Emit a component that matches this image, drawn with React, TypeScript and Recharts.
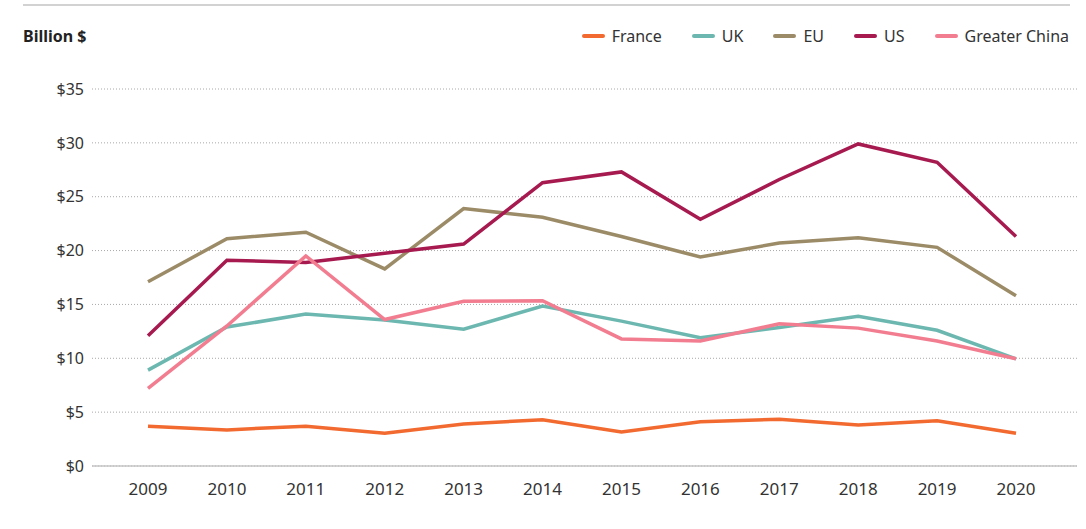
import React from 'react';
import { LineChart, Line, XAxis, YAxis, CartesianGrid } from 'recharts';

const years = ['2009', '2010', '2011', '2012', '2013', '2014', '2015', '2016', '2017', '2018', '2019', '2020'];
const france = [3.7, 3.35, 3.7, 3.05, 3.9, 4.3, 3.15, 4.1, 4.35, 3.8, 4.2, 3.05];
const uk = [8.9, 12.9, 14.1, 13.55, 12.7, 14.85, 13.45, 11.9, 12.85, 13.9, 12.6, 9.95];
const eu = [17.1, 21.1, 21.7, 18.3, 23.9, 23.1, 21.3, 19.4, 20.7, 21.2, 20.3, 15.8];
const us = [12.1, 19.1, 18.9, 19.75, 20.6, 26.3, 27.3, 22.9, 26.6, 29.9, 28.2, 21.3];
const china = [7.2, 13.0, 19.5, 13.6, 15.3, 15.35, 11.8, 11.6, 13.2, 12.8, 11.6, 9.95];
const yTicks = [0, 5, 10, 15, 20, 25, 30, 35];

const series = [
  { key: 'France', values: france, color: '#f26a30' },
  { key: 'UK', values: uk, color: '#6cb8b0' },
  { key: 'EU', values: eu, color: '#9c8b67' },
  { key: 'US', values: us, color: '#a61a50' },
  { key: 'Greater China', values: china, color: '#f27d90' },
];

const data = years.map((y, i) => {
  const row: Record<string, string | number> = { year: y };
  series.forEach((s) => {
    row[s.key] = s.values[i];
  });
  return row;
});

const FONT = '"Noto Sans", sans-serif';
const TEXT = '#333333';

export default function App() {
  return (
    <div style={{ position: 'absolute', left: 0, top: 0, width: 1086, height: 529, fontFamily: FONT, background: '#fff' }}>
      <div style={{ position: 'absolute', left: 23, top: 4, width: 1047, height: 0, borderTop: '2px solid #d2d2d2' }} />
      <div style={{ position: 'absolute', left: 23, top: 25, fontSize: 16, fontWeight: 700, color: '#222', lineHeight: '22px' }}>
        Billion $
      </div>
      <div style={{ position: 'absolute', right: 17, top: 25, display: 'flex', alignItems: 'center', lineHeight: '22px' }}>
        {series.map((s, i) => (
          <div key={s.key} style={{ display: 'flex', alignItems: 'center', marginLeft: i === 0 ? 0 : 30 }}>
            <div style={{ width: 23, height: 3.5, borderRadius: 2, background: s.color, marginRight: 7 }} />
            <span style={{ fontSize: 16, color: TEXT }}>{s.key}</span>
          </div>
        ))}
      </div>
      <LineChart width={1086} height={529} data={data} margin={{ top: 89, right: 9, bottom: 33, left: 0 }}>
        <CartesianGrid vertical={false} stroke="#a8a8a8" strokeDasharray="1 2" />
        <XAxis
          dataKey="year"
          scale="point"
          padding={{ left: 56, right: 61 }}
          tickLine={false}
          axisLine={{ stroke: '#c4c4c4', strokeWidth: 1.5 }}
          tickSize={0}
          tickMargin={17}
          tick={{ fill: TEXT, fontSize: 17, fontFamily: FONT }}
        />
        <YAxis
          width={92}
          domain={[0, 35]}
          ticks={yTicks}
          interval={0}
          tickFormatter={(v: number) => `$${v}`}
          axisLine={false}
          tickLine={false}
          tickSize={0}
          tickMargin={8}
          tick={{ fill: TEXT, fontSize: 16, fontFamily: FONT }}
        />
        {series.map((s) => (
          <Line
            key={s.key}
            dataKey={s.key}
            stroke={s.color}
            strokeWidth={3.5}
            dot={false}
            activeDot={false}
            type="linear"
            isAnimationActive={false}
          />
        ))}
      </LineChart>
    </div>
  );
}
